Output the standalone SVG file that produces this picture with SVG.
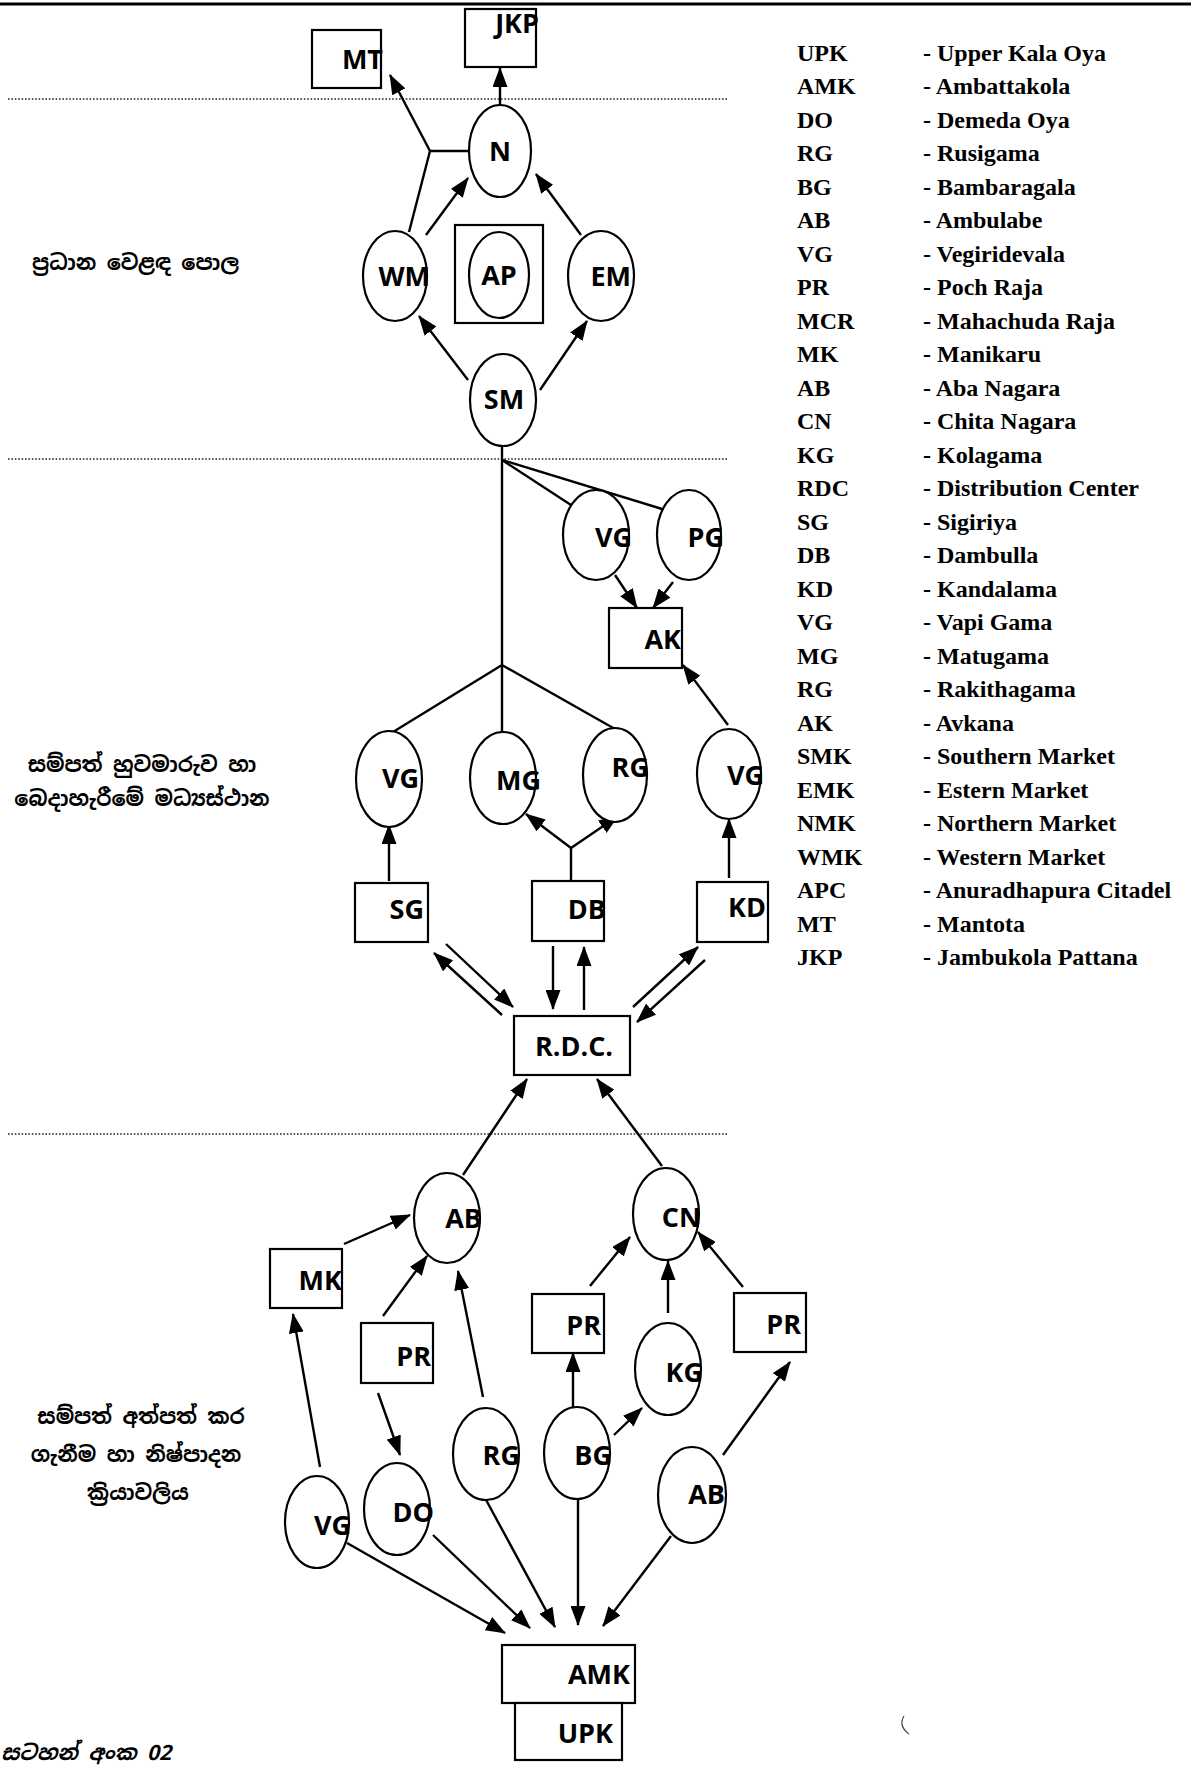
<svg xmlns="http://www.w3.org/2000/svg" width="1191" height="1769" viewBox="0 0 1191 1769">
<style>
.sh{fill:#fff;stroke:#000;stroke-width:2.2}
.ln{stroke:#000;stroke-width:2.4;fill:none}
.ar{stroke:#000;stroke-width:2.4;fill:none;marker-end:url(#ah)}
.dot{stroke:#222;stroke-width:1.6;stroke-dasharray:1.6 1.8;fill:none}
.lbl{font-family:"Open Sans","Liberation Sans",sans-serif;font-weight:700;font-size:27px;fill:#000}
.lg{font-family:"Liberation Serif","Times New Roman",serif;font-weight:700;font-size:24px;fill:#000}
.si{font-family:"Noto Sans Sinhala","Noto Sans","Liberation Sans",sans-serif;font-weight:700;font-size:21px;fill:#000}
</style>
<defs>
<marker id="ah" markerWidth="20" markerHeight="15" refX="19" refY="7.5" orient="auto" markerUnits="userSpaceOnUse">
<path d="M0,0 L20,7.5 L0,15 z" fill="#000"/>
</marker>
</defs>
<rect width="1191" height="1769" fill="#fff"/>
<line x1="0" y1="4" x2="1191" y2="4" stroke="#000" stroke-width="3"/>
<g id="separators">
<line class="dot" x1="8" y1="99" x2="728" y2="99"/>
<line class="dot" x1="8" y1="459" x2="728" y2="459"/>
<line class="dot" x1="8" y1="1134" x2="728" y2="1134"/>
</g>
<g id="connectors">
<line class="ar" x1="500" y1="105" x2="500" y2="68"/>
<line class="ln" x1="409" y1="232" x2="430" y2="151"/>
<line class="ln" x1="430" y1="151" x2="470" y2="151"/>
<line class="ar" x1="430" y1="151" x2="390" y2="75"/>
<line class="ar" x1="426" y1="235" x2="468" y2="178"/>
<line class="ar" x1="581" y1="235" x2="536" y2="174"/>
<line class="ar" x1="468" y1="380" x2="419" y2="316"/>
<line class="ar" x1="540" y1="390" x2="587" y2="321"/>
<line class="ln" x1="502" y1="446" x2="502" y2="665"/>
<line class="ln" x1="502" y1="460" x2="571" y2="505"/>
<line class="ln" x1="502" y1="460" x2="662" y2="509"/>
<line class="ar" x1="615" y1="575" x2="637" y2="608"/>
<line class="ar" x1="673" y1="582" x2="653" y2="608"/>
<line class="ar" x1="728" y1="725" x2="683" y2="665"/>
<line class="ln" x1="502" y1="665" x2="393" y2="732"/>
<line class="ln" x1="502" y1="665" x2="502" y2="732"/>
<line class="ln" x1="502" y1="665" x2="615" y2="729"/>
<line class="ar" x1="389" y1="881" x2="389" y2="825"/>
<line class="ln" x1="571" y1="881" x2="571" y2="848"/>
<line class="ar" x1="571" y1="848" x2="526" y2="814"/>
<line class="ar" x1="571" y1="848" x2="618" y2="816"/>
<line class="ar" x1="729" y1="878" x2="729" y2="819"/>
<line class="ar" x1="502" y1="1015" x2="434" y2="953"/>
<line class="ar" x1="446" y1="944" x2="513" y2="1007"/>
<line class="ar" x1="553" y1="946" x2="553" y2="1009"/>
<line class="ar" x1="584" y1="1010" x2="584" y2="947"/>
<line class="ar" x1="633" y1="1007" x2="698" y2="947"/>
<line class="ar" x1="705" y1="960" x2="637" y2="1022"/>
<line class="ar" x1="463" y1="1175" x2="527" y2="1079"/>
<line class="ar" x1="662" y1="1166" x2="597" y2="1079"/>
<line class="ar" x1="344" y1="1244" x2="410" y2="1215"/>
<line class="ar" x1="383" y1="1316" x2="427" y2="1256"/>
<line class="ar" x1="378" y1="1393" x2="400" y2="1455"/>
<line class="ar" x1="483" y1="1397" x2="458" y2="1271"/>
<line class="ar" x1="320" y1="1467" x2="293" y2="1314"/>
<line class="ar" x1="590" y1="1286" x2="630" y2="1237"/>
<line class="ar" x1="668" y1="1313" x2="668" y2="1261"/>
<line class="ar" x1="743" y1="1287" x2="698" y2="1232"/>
<line class="ar" x1="573" y1="1407" x2="573" y2="1353"/>
<line class="ar" x1="614" y1="1435" x2="642" y2="1408"/>
<line class="ar" x1="723" y1="1455" x2="790" y2="1362"/>
<line class="ar" x1="347" y1="1543" x2="505" y2="1633"/>
<line class="ar" x1="433" y1="1535" x2="530" y2="1628"/>
<line class="ar" x1="485" y1="1498" x2="555" y2="1627"/>
<line class="ar" x1="578" y1="1499" x2="578" y2="1625"/>
<line class="ar" x1="671" y1="1536" x2="603" y2="1626"/>
</g>
<g id="node-MT"><rect class="sh" x="312" y="30" width="69" height="58"/><text class="lbl" x="383" y="69" text-anchor="end">MT</text></g>
<g id="node-JKP"><rect class="sh" x="465" y="9" width="71" height="58"/><text class="lbl" x="539" y="33" text-anchor="end">JKP</text></g>
<g id="node-N"><ellipse class="sh" cx="500" cy="151" rx="31" ry="46"/><text class="lbl" x="500" y="161" text-anchor="middle">N</text></g>
<g id="node-WM"><ellipse class="sh" cx="395" cy="276" rx="32" ry="45"/><text class="lbl" x="430" y="286" text-anchor="end">WM</text></g>
<g id="node-AP"><rect class="sh" x="455" y="225" width="88" height="98"/><ellipse class="sh" cx="499" cy="275" rx="30" ry="43"/><text class="lbl" x="499" y="285" text-anchor="middle">AP</text></g>
<g id="node-EM"><ellipse class="sh" cx="601" cy="276" rx="33" ry="45"/><text class="lbl" x="631" y="286" text-anchor="end">EM</text></g>
<g id="node-SM"><ellipse class="sh" cx="503" cy="400" rx="33" ry="46"/><text class="lbl" x="504" y="409" text-anchor="middle">SM</text></g>
<g id="node-VG-1"><ellipse class="sh" cx="596" cy="535" rx="33" ry="45"/><text class="lbl" x="632" y="547" text-anchor="end">VG</text></g>
<g id="node-PG"><ellipse class="sh" cx="689" cy="535" rx="32" ry="45"/><text class="lbl" x="724" y="547" text-anchor="end">PG</text></g>
<g id="node-AK"><rect class="sh" x="609" y="608" width="73" height="60"/><text class="lbl" x="681" y="649" text-anchor="end">AK</text></g>
<g id="node-VG-2"><ellipse class="sh" cx="389" cy="779" rx="33" ry="48"/><text class="lbl" x="419" y="788" text-anchor="end">VG</text></g>
<g id="node-MG"><ellipse class="sh" cx="503" cy="778" rx="33" ry="46"/><text class="lbl" x="541" y="790" text-anchor="end">MG</text></g>
<g id="node-RG-1"><ellipse class="sh" cx="615" cy="775" rx="32" ry="47"/><text class="lbl" x="649" y="777" text-anchor="end">RG</text></g>
<g id="node-VG-3"><ellipse class="sh" cx="729" cy="774" rx="32" ry="45"/><text class="lbl" x="764" y="785" text-anchor="end">VG</text></g>
<g id="node-SG"><rect class="sh" x="355" y="883" width="73" height="59"/><text class="lbl" x="424" y="919" text-anchor="end">SG</text></g>
<g id="node-DB"><rect class="sh" x="532" y="881" width="72" height="60"/><text class="lbl" x="606" y="919" text-anchor="end">DB</text></g>
<g id="node-KD"><rect class="sh" x="697" y="882" width="71" height="60"/><text class="lbl" x="766" y="917" text-anchor="end">KD</text></g>
<g id="node-RDC"><rect class="sh" x="514" y="1016" width="116" height="59"/><text class="lbl" x="574" y="1056" text-anchor="middle">R.D.C.</text></g>
<g id="node-AB-1"><ellipse class="sh" cx="447" cy="1218" rx="33" ry="45"/><text class="lbl" x="482" y="1228" text-anchor="end">AB</text></g>
<g id="node-CN"><ellipse class="sh" cx="666" cy="1214" rx="33" ry="46"/><text class="lbl" x="701" y="1227" text-anchor="end">CN</text></g>
<g id="node-MK"><rect class="sh" x="270" y="1249" width="72" height="59"/><text class="lbl" x="342" y="1290" text-anchor="end">MK</text></g>
<g id="node-PR-1"><rect class="sh" x="361" y="1323" width="72" height="60"/><text class="lbl" x="431" y="1366" text-anchor="end">PR</text></g>
<g id="node-PR-2"><rect class="sh" x="532" y="1294" width="72" height="59"/><text class="lbl" x="601" y="1335" text-anchor="end">PR</text></g>
<g id="node-PR-3"><rect class="sh" x="734" y="1293" width="72" height="59"/><text class="lbl" x="801" y="1334" text-anchor="end">PR</text></g>
<g id="node-KG"><ellipse class="sh" cx="668" cy="1369" rx="33" ry="46"/><text class="lbl" x="703" y="1382" text-anchor="end">KG</text></g>
<g id="node-RG-2"><ellipse class="sh" cx="486" cy="1454" rx="33" ry="46"/><text class="lbl" x="520" y="1465" text-anchor="end">RG</text></g>
<g id="node-BG"><ellipse class="sh" cx="577" cy="1453" rx="33" ry="46"/><text class="lbl" x="612" y="1465" text-anchor="end">BG</text></g>
<g id="node-VG-4"><ellipse class="sh" cx="317" cy="1522" rx="32" ry="46"/><text class="lbl" x="351" y="1535" text-anchor="end">VG</text></g>
<g id="node-DO"><ellipse class="sh" cx="397" cy="1509" rx="33" ry="46"/><text class="lbl" x="434" y="1522" text-anchor="end">DO</text></g>
<g id="node-AB-2"><ellipse class="sh" cx="692" cy="1495" rx="34" ry="48"/><text class="lbl" x="725" y="1504" text-anchor="end">AB</text></g>
<g id="node-AMK"><rect class="sh" x="502" y="1645" width="133" height="58"/><text class="lbl" x="630" y="1684" text-anchor="end">AMK</text></g>
<g id="node-UPK"><rect class="sh" x="515" y="1703" width="107" height="57"/><text class="lbl" x="613" y="1743" text-anchor="end">UPK</text></g>
<g id="section-labels">
<text class="si" x="32" y="270">ප්‍රධාන වෙළඳ පොල</text>
<text class="si" x="142" y="772" text-anchor="middle">සම්පත් හුවමාරුව හා</text>
<text class="si" x="142" y="806" text-anchor="middle">බෙදාහැරීමේ මධ්‍යස්ථාන</text>
<text class="si" x="141" y="1424" text-anchor="middle">සම්පත් අත්පත් කර</text>
<text class="si" x="136" y="1462" text-anchor="middle">ගැනීම හා නිෂ්පාදන</text>
<text class="si" x="138" y="1500" text-anchor="middle">ක්‍රියාවලිය</text>
<text class="si" x="1" y="1760" font-style="italic">සටහන් අංක 02</text>
</g>
<g id="legend">
<text class="lg" x="797" y="61">UPK</text><text class="lg" x="923" y="61">- Upper Kala Oya</text>
<text class="lg" x="797" y="94">AMK</text><text class="lg" x="923" y="94">- Ambattakola</text>
<text class="lg" x="797" y="128">DO</text><text class="lg" x="923" y="128">- Demeda Oya</text>
<text class="lg" x="797" y="161">RG</text><text class="lg" x="923" y="161">- Rusigama</text>
<text class="lg" x="797" y="195">BG</text><text class="lg" x="923" y="195">- Bambaragala</text>
<text class="lg" x="797" y="228">AB</text><text class="lg" x="923" y="228">- Ambulabe</text>
<text class="lg" x="797" y="262">VG</text><text class="lg" x="923" y="262">- Vegiridevala</text>
<text class="lg" x="797" y="295">PR</text><text class="lg" x="923" y="295">- Poch Raja</text>
<text class="lg" x="797" y="329">MCR</text><text class="lg" x="923" y="329">- Mahachuda Raja</text>
<text class="lg" x="797" y="362">MK</text><text class="lg" x="923" y="362">- Manikaru</text>
<text class="lg" x="797" y="396">AB</text><text class="lg" x="923" y="396">- Aba Nagara</text>
<text class="lg" x="797" y="429">CN</text><text class="lg" x="923" y="429">- Chita Nagara</text>
<text class="lg" x="797" y="463">KG</text><text class="lg" x="923" y="463">- Kolagama</text>
<text class="lg" x="797" y="496">RDC</text><text class="lg" x="923" y="496">- Distribution Center</text>
<text class="lg" x="797" y="530">SG</text><text class="lg" x="923" y="530">- Sigiriya</text>
<text class="lg" x="797" y="563">DB</text><text class="lg" x="923" y="563">- Dambulla</text>
<text class="lg" x="797" y="597">KD</text><text class="lg" x="923" y="597">- Kandalama</text>
<text class="lg" x="797" y="630">VG</text><text class="lg" x="923" y="630">- Vapi Gama</text>
<text class="lg" x="797" y="664">MG</text><text class="lg" x="923" y="664">- Matugama</text>
<text class="lg" x="797" y="697">RG</text><text class="lg" x="923" y="697">- Rakithagama</text>
<text class="lg" x="797" y="731">AK</text><text class="lg" x="923" y="731">- Avkana</text>
<text class="lg" x="797" y="764">SMK</text><text class="lg" x="923" y="764">- Southern Market</text>
<text class="lg" x="797" y="798">EMK</text><text class="lg" x="923" y="798">- Estern Market</text>
<text class="lg" x="797" y="831">NMK</text><text class="lg" x="923" y="831">- Northern Market</text>
<text class="lg" x="797" y="865">WMK</text><text class="lg" x="923" y="865">- Western Market</text>
<text class="lg" x="797" y="898">APC</text><text class="lg" x="923" y="898">- Anuradhapura Citadel</text>
<text class="lg" x="797" y="932">MT</text><text class="lg" x="923" y="932">- Mantota</text>
<text class="lg" x="797" y="965">JKP</text><text class="lg" x="923" y="965">- Jambukola Pattana</text>
</g>
<path d="M904,1716 Q898,1726 909,1734" stroke="#444" stroke-width="1.2" fill="none"/>
</svg>
